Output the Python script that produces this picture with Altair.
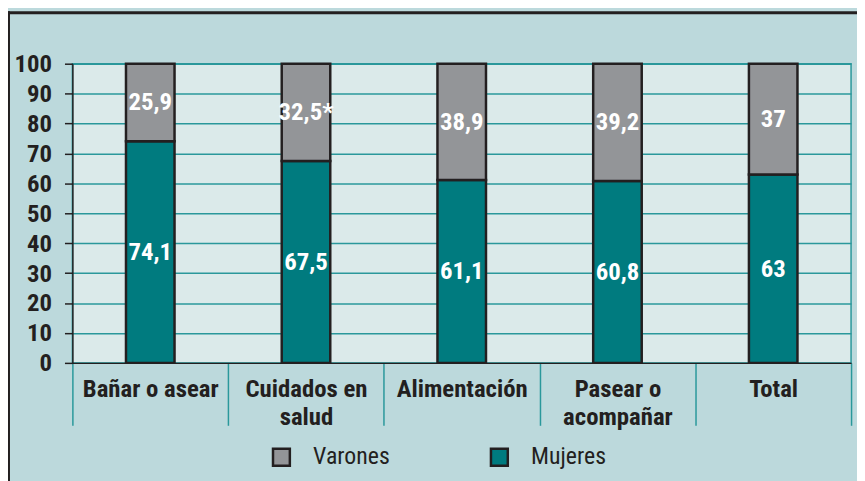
import altair as alt
import pandas as pd

categories = ["Bañar o asear", "Cuidados en salud", "Alimentación", "Pasear o acompañar", "Total"]
tick_labels = [["Bañar o asear"], ["Cuidados en", "salud"], ["Alimentación"], ["Pasear o", "acompañar"], ["Total"]]
mujeres = [74.1, 67.5, 61.1, 60.8, 63]
varones = [25.9, 32.5, 38.9, 39.2, 37]
varones_marks = ["", "*", "", "", ""]
series = ["Varones", "Mujeres"]
y_ticks = list(range(0, 101, 10))

FONT = "Roboto Condensed"
DARK = "#231f20"
TEAL = "#2a989b"
BAR_TEAL = "#007b7f"
GRAY = "#939598"
PLOT_BG = "#dbeaea"
OUTER_BG = "#bcd9dc"


def fmt(v):
    return f"{v:g}".replace(".", ",")


rows = []
for i, c in enumerate(categories):
    rows.append(dict(cat=c, grupo="Mujeres", value=mujeres[i], ord=0, label=fmt(mujeres[i])))
    rows.append(dict(cat=c, grupo="Varones", value=varones[i], ord=1,
                     label=fmt(varones[i]) + varones_marks[i]))
df = pd.DataFrame(rows)

expr = ""
for c, lines in zip(categories, tick_labels):
    arr = "[" + ",".join("'" + l + "'" for l in lines) + "]"
    expr += f"datum.value === '{c}' ? {arr} : "
expr += "datum.label"

x_axis = alt.Axis(
    title=None, labelAngle=0, labelExpr=expr, tickBand="extent",
    tickSize=63, tickColor=TEAL, tickWidth=1.5, labelPadding=-49,
    labelFont=FONT, labelFontSize=25, labelFontWeight="bold", labelColor=DARK,
    labelLineHeight=28, labelOverlap=False, labelLimit=300,
    domainColor=DARK, domainWidth=1.5, grid=False,
)
x_scale = alt.Scale(paddingInner=0, paddingOuter=0)

y_axis = alt.Axis(
    values=y_ticks, tickCount=11, title=None, tickSize=8, tickColor=DARK, tickWidth=1.5,
    domainColor=DARK, domainWidth=1.5, gridColor=TEAL, gridWidth=1.5,
    labelPadding=13, labelFont=FONT, labelFontSize=25, labelFontWeight="bold",
    labelColor=DARK, labelOverlap=False,
)
y_scale = alt.Scale(domain=[0, 100], nice=False)

base = alt.Chart(df)

bars = base.mark_bar(size=49, stroke=DARK, strokeWidth=2.5).encode(
    x=alt.X("cat:N", sort=categories, scale=x_scale, axis=x_axis),
    y=alt.Y("value:Q", stack="zero", scale=y_scale, axis=y_axis),
    color=alt.Color(
        "grupo:N",
        scale=alt.Scale(domain=series, range=[GRAY, BAR_TEAL]),
        legend=alt.Legend(
            title=None, orient="none", legendX=199, legendY=385, direction="horizontal",
            symbolType="square", symbolSize=289, symbolStrokeColor=DARK, symbolStrokeWidth=2.5,
            labelFont=FONT, labelFontSize=24, labelFontWeight="normal", labelColor=DARK,
            labelOffset=20, columnPadding=96, padding=0,
        ),
    ),
    order=alt.Order("ord:Q", sort="ascending"),
)

texts = base.transform_stack(
    stack="value", groupby=["cat"], as_=["v0", "v1"], sort=[alt.SortField("ord", order="ascending")]
).transform_calculate(
    mid="(datum.v0 + datum.v1) / 2"
).mark_text(
    font=FONT, fontSize=25, fontWeight="bold", color="white", baseline="middle", align="center"
).encode(
    x=alt.X("cat:N", sort=categories, scale=x_scale, axis=x_axis),
    y=alt.Y("mid:Q", scale=y_scale, axis=y_axis),
    text="label:N",
)

frame_df = pd.DataFrame({"k": [0]})
left_border = alt.Chart(frame_df).mark_rule(color=DARK, strokeWidth=3).encode(
    x=alt.value(-64.5), y=alt.value(-53), y2=alt.value(430)
)
top_border = alt.Chart(frame_df).mark_rule(color=DARK, strokeWidth=3).encode(
    x=alt.value(-66), x2=alt.value(800), y=alt.value(-51.5)
)

chart = alt.layer(bars, texts, left_border, top_border).properties(
    width=786, height=302,
    autosize="none",
    padding={"left": 65, "top": 54, "right": 6, "bottom": 117},
    background=OUTER_BG,
).configure_view(
    fill=PLOT_BG, stroke=TEAL, strokeWidth=1.5
)

chart.save("out.html", embed_options={"renderer": "svg", "actions": False})
